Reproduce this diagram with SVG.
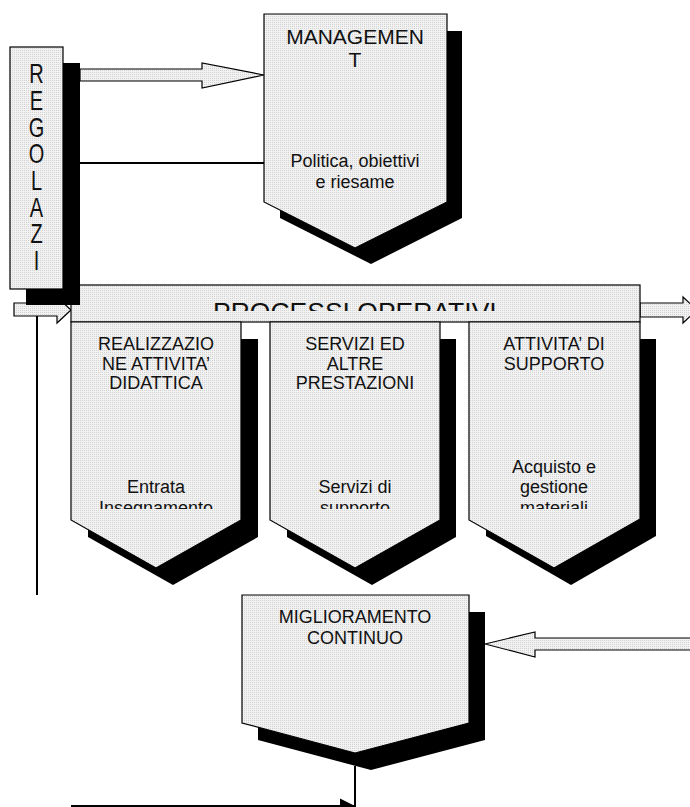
<svg xmlns="http://www.w3.org/2000/svg" width="690" height="807" viewBox="0 0 690 807">
  <style>
    .box { fill: url(#dots); stroke: #000; stroke-width: 1.2; stroke-linejoin: miter; }
    .shadow { fill: #000; }
    .blk { fill: url(#dots); stroke: #000; stroke-width: 1.2; stroke-linejoin: miter; }
    .line { fill: none; stroke: #000; stroke-width: 2; }
    text { font-family: "Liberation Sans", Arial, sans-serif; fill: #111; }
    .t { font-size: 18px; text-anchor: middle; }
    .big { font-size: 21px; text-anchor: middle; }
    .v { font-size: 20px; text-anchor: middle; }
  </style>
  <defs>
    <pattern id="dots" width="2" height="2" patternUnits="userSpaceOnUse">
      <rect width="2" height="2" fill="#f2f2f2"/>
      <rect width="1" height="1" fill="#d2d2d2"/>
    </pattern>
    <clipPath id="clipLower"><rect x="0" y="0" width="690" height="509"/></clipPath>
    <clipPath id="clipBar"><rect x="71" y="285" width="569" height="26"/></clipPath>
    <marker id="head" viewBox="0 0 10 10" refX="10" refY="5" markerWidth="15" markerHeight="18" orient="auto" markerUnits="userSpaceOnUse">
      <path d="M0,0 L10,5 L0,10 Z" fill="#000"/>
    </marker>
  </defs>

  <!-- connectors -->
  <g id="connectors">
    <!-- regolazione -> management (block arrow) -->
    <polygon class="blk" points="80,69 202,69 202,63 264,75 202,88 202,81 80,81"/>
    <!-- regolazione -> management (plain line) -->
    <line class="line" x1="80" y1="163" x2="264" y2="163"/>
    <!-- input arrow into processi operativi -->
    <polygon class="blk" points="14,303 57,303 57,297 71,310 57,323 57,316 14,316"/>
    <line class="line" x1="37" y1="316" x2="37" y2="595"/>
    <!-- output arrow from processi operativi -->
    <polygon class="blk" points="640,303 683,303 683,297 697,310 683,323 683,317 640,317"/>
    <!-- feedback arrow into miglioramento -->
    <polygon class="blk" points="692,638 535,638 535,632 485,644 535,657 535,650 692,650"/>
    <!-- bottom return -->
    <line class="line" x1="355" y1="766" x2="355" y2="807"/>
    <line class="line" x1="71" y1="806" x2="355" y2="806" marker-end="url(#head)"/>
  </g>

  <!-- processi operativi bar -->
  <g id="processi">
    <rect class="box" x="71" y="285" width="569" height="37"/>
    <text clip-path="url(#clipBar)" x="213" y="321" font-size="26.5">PROCESSI OPERATIVI</text>
  </g>

  <!-- realizzazione attivita didattica -->
  <g id="didattica">
    <polygon class="shadow" points="88,339 258,339 258,537 173,585 88,537"/>
    <polygon class="box" points="71,322 241,322 241,520 156,568 71,520"/>
    <text class="t"><tspan x="156" y="350">REALIZZAZIO</tspan><tspan x="156" y="369.5">NE ATTIVITA’</tspan><tspan x="156" y="389">DIDATTICA</tspan></text>
    <text class="t" clip-path="url(#clipLower)"><tspan x="156" y="493">Entrata</tspan><tspan x="156" y="514">Insegnamento</tspan></text>
  </g>

  <!-- servizi ed altre prestazioni -->
  <g id="servizi">
    <polygon class="shadow" points="287,339 456,339 456,537 372,585 287,537"/>
    <polygon class="box" points="270,322 440,322 440,520 355,568 270,520"/>
    <text class="t"><tspan x="355" y="350">SERVIZI ED</tspan><tspan x="355" y="369.5">ALTRE</tspan><tspan x="355" y="389">PRESTAZIONI</tspan></text>
    <text class="t" clip-path="url(#clipLower)"><tspan x="355" y="493">Servizi di</tspan><tspan x="355" y="514">supporto</tspan></text>
  </g>

  <!-- attivita di supporto -->
  <g id="supporto">
    <polygon class="shadow" points="486,339 656,339 656,536 571,585 486,536"/>
    <polygon class="box" points="469,322 640,322 640,519 554,568 469,520"/>
    <text class="t"><tspan x="554" y="350">ATTIVITA’ DI</tspan><tspan x="554" y="370">SUPPORTO</tspan></text>
    <text class="t" clip-path="url(#clipLower)"><tspan x="554" y="472.5">Acquisto e</tspan><tspan x="554" y="493">gestione</tspan><tspan x="554" y="514">materiali</tspan></text>
  </g>

  <!-- management -->
  <g id="management">
    <polygon class="shadow" points="280,31 462,31 462,218 371,264 280,218"/>
    <polygon class="box" points="264,14 447,14 447,202 355,248 264,202"/>
    <text class="big"><tspan x="355" y="44">MANAGEMEN</tspan><tspan x="355" y="66.5">T</tspan></text>
    <text class="t" font-size="18.5"><tspan x="355" y="166.5">Politica, obiettivi</tspan><tspan x="355" y="188">e riesame</tspan></text>
  </g>

  <!-- regolazione: tall stacked letters -->
  <g id="regolazione">
    <rect class="shadow" x="26" y="63" width="54" height="242"/>
    <rect class="box" x="10" y="47" width="53" height="242"/>
    <text class="v" transform="translate(36.5 83) scale(1 1.35)">R</text>
    <text class="v" transform="translate(36.5 110) scale(1 1.35)">E</text>
    <text class="v" transform="translate(36.5 137) scale(1 1.35)">G</text>
    <text class="v" transform="translate(36.5 163) scale(1 1.35)">O</text>
    <text class="v" transform="translate(36.5 190) scale(1 1.35)">L</text>
    <text class="v" transform="translate(36.5 217) scale(1 1.35)">A</text>
    <text class="v" transform="translate(36.5 243) scale(1 1.35)">Z</text>
    <text class="v" transform="translate(36.5 270) scale(1 1.35)">I</text>
  </g>

  <!-- miglioramento continuo -->
  <g id="miglioramento">
    <polygon class="shadow" points="258,612 485,612 485,740 371,770 258,740"/>
    <polygon class="box" points="242,595 469,595 469,723 355,753 242,723"/>
    <text class="t"><tspan x="355" y="623">MIGLIORAMENTO</tspan><tspan x="355" y="644">CONTINUO</tspan></text>
  </g>
</svg>
